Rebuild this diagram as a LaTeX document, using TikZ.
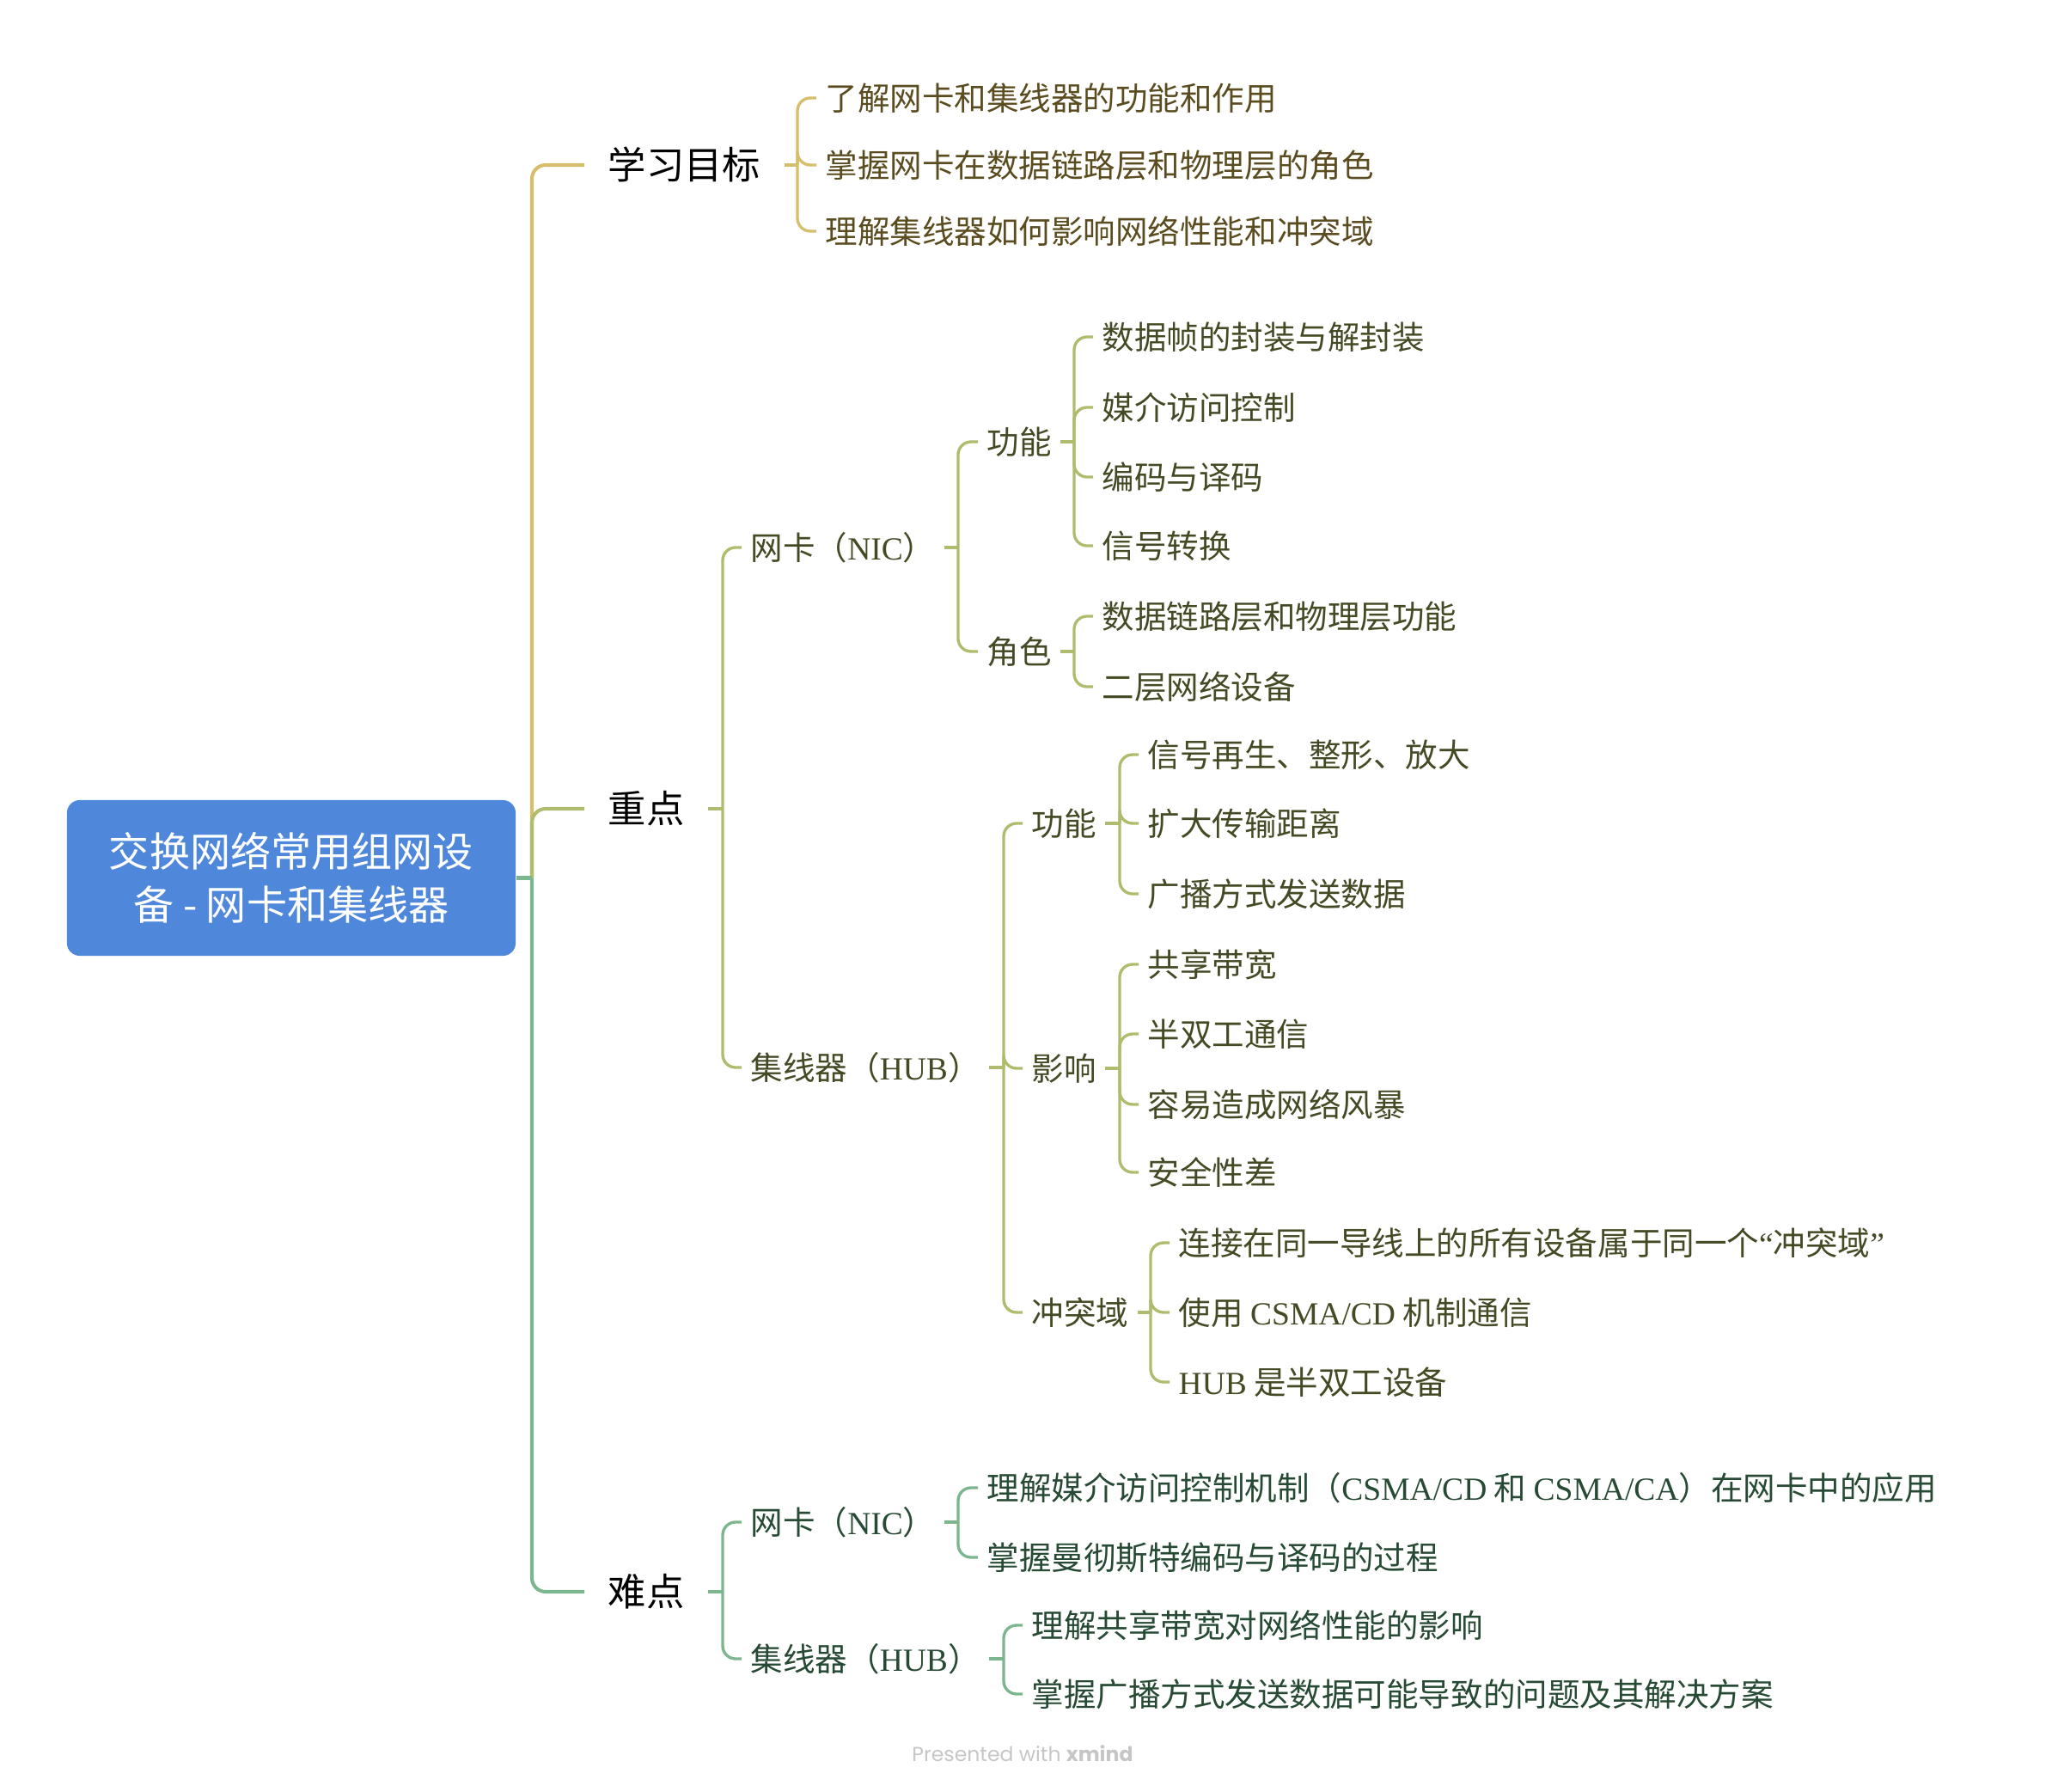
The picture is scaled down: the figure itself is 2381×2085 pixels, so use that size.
\documentclass[tikz,border=0pt]{standalone}
\usepackage{fontspec}
\setmainfont{Noto Sans CJK SC}
\newfontfamily\lat{Liberation Serif}
\newfontfamily\wmfont{Poppins}
\usepackage{tikz}
\usetikzlibrary{calc}

\definecolor{rootblue}{HTML}{4F87DB}
\definecolor{goldline}{HTML}{D6BE6C}
\definecolor{oliveline}{HTML}{B0BB6D}
\definecolor{greenline}{HTML}{7CB68E}
\definecolor{goldtext}{HTML}{5B4C20}
\definecolor{olivetext}{HTML}{434A24}
\definecolor{greentext}{HTML}{264A33}
\definecolor{wmgray}{HTML}{C6C6C6}

\begin{document}
\begin{tikzpicture}[x=0.01cm, y=-0.01cm]

	\tikzset{
		root/.style={rectangle, rounded corners=0.15cm, fill=rootblue, text=white,
			minimum width=5.22cm, minimum height=1.81cm, align=center,
			font=\fontsize{13.4pt}{17.6pt}\selectfont},
		topic/.style={anchor=west, inner xsep=0.27cm, inner ysep=0pt, text=black,
			font=\fontsize{12.6pt}{14pt}\selectfont, text height=10.46pt, text depth=0.88pt},
		leaf/.style={anchor=west, inner xsep=0.1cm, inner ysep=0pt,
			font=\fontsize{10.67pt}{12pt}\selectfont, text height=8.86pt, text depth=0.75pt},
		trunk/.style={line width=1.15pt, rounded corners=0.16cm},
		twig/.style={line width=0.95pt, rounded corners=0.15cm},
		gold line/.style={draw=goldline}, gold text/.style={text=goldtext},
		olive line/.style={draw=oliveline}, olive text/.style={text=olivetext},
		green line/.style={draw=greenline}, green text/.style={text=greentext},
		watermark/.style={text=wmgray, font=\wmfont\fontsize{6.7pt}{8pt}\selectfont}
	}

	\useasboundingbox (0,0) rectangle (2381,2085);

	% --- children of one parent: junction x, text x, branch, y/text list ---
	\newcommand{\twigs}[5]{
		\coordinate (jx) at (#2,0);
		\coordinate (#1-j) at (#1.east -| jx);
		\draw[twig, #4 line] (#1.east) -- (#1-j);
		\foreach \y/\txt [count=\i] in {#5} {
			\node[leaf, #4 text] (#1-\i) at ({#3-10},\y) {\txt};
			\draw[twig, #4 line] (#1-j) |- (#1-\i.west);
		}
	}

	% Central topic
	\node[root] (root) at (339,1021.5) {交换网络常用组网设\\备 - 网卡和集线器};

	% Main topics
	\node[topic] (goal) at (680,192) {学习目标};
	\node[topic] (key) at (680,941) {重点};
	\node[topic] (hard) at (680,1852) {难点};

	\coordinate (tx) at (619,0);
	\coordinate (root-j) at (root.east -| tx);
	\draw[trunk, gold line] (root-j) |- (goal.west);
	\draw[trunk, olive line] (root-j) |- (key.west);
	\draw[trunk, green line] (root-j) |- (hard.west);
	\draw[trunk, green line] (root.east) -- (root-j);

	% 学习目标
	\twigs{goal}{928}{960}{gold}{114/了解网卡和集线器的功能和作用, 192/掌握网卡在数据链路层和物理层的角色, 269/理解集线器如何影响网络性能和冲突域}

	% 重点
	\twigs{key}{841}{873}{olive}{637/{网卡（{\lat NIC}）}, 1242/{集线器（{\lat HUB}）}}
	\twigs{key-1}{1115}{1148}{olive}{514/功能, 758/角色}
	\twigs{key-1-1}{1250}{1282}{olive}{392/数据帧的封装与解封装, 474/媒介访问控制, 555/编码与译码, 635/信号转换}
	\twigs{key-1-2}{1250}{1282}{olive}{717/数据链路层和物理层功能, 799/二层网络设备}
	\twigs{key-2}{1168}{1200}{olive}{958/功能, 1243/影响, 1527/冲突域}
	\twigs{key-2-1}{1303}{1335}{olive}{878/信号再生、整形、放大, 958/扩大传输距离, 1040/广播方式发送数据}
	\twigs{key-2-2}{1303}{1335}{olive}{1122/共享带宽, 1203/半双工通信, 1285/容易造成网络风暴, 1364/安全性差}
	\twigs{key-2-3}{1339}{1371}{olive}{1446/{连接在同一导线上的所有设备属于同一个{\lat “}冲突域{\lat ”}}, 1527/{使用 {\lat CSMA/CD} 机制通信}, 1608/{{\lat HUB} 是半双工设备}}

	% 难点
	\twigs{hard}{841}{873}{green}{1771/{网卡（{\lat NIC}）}, 1930/{集线器（{\lat HUB}）}}
	\twigs{hard-1}{1115}{1148}{green}{1731/{理解媒介访问控制机制（{\lat CSMA/CD} 和 {\lat CSMA/CA}）在网卡中的应用}, 1812/掌握曼彻斯特编码与译码的过程}
	\twigs{hard-2}{1168}{1200}{green}{1891/理解共享带宽对网络性能的影响, 1971/掌握广播方式发送数据可能导致的问题及其解决方案}

	\node[watermark] (mark) at (1190,2040) {Presented with \textbf{xmind}};

\end{tikzpicture}
\end{document}
